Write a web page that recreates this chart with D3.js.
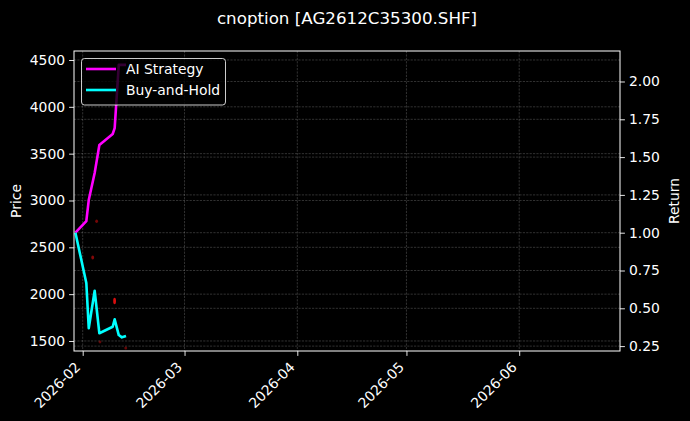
<!DOCTYPE html>
<html><head><meta charset="utf-8">
<script src="https://cdn.jsdelivr.net/npm/d3@7"></script>
<style>html,body{margin:0;padding:0;background:#000;}svg{display:block;font-family:"DejaVu Sans",sans-serif;}</style>
</head><body>
<script>
// ---- data ----
const titleText = "cnoption [AG2612C35300.SHF]";
const dates = ["2026-01-30T00:00","2026-02-02T00:00","2026-02-02T16:00","2026-02-04T07:00","2026-02-05T14:00","2026-02-09T06:00","2026-02-09T19:00","2026-02-10T22:00","2026-02-11T19:00","2026-02-12T22:00"];
const aiStrategy = [1.00, 1.077, 1.216, 1.395, 1.58, 1.653, 1.692, 2.11, 2.11, 2.11];
const buyHold    = [1.00, 0.667, 0.368, 0.616, 0.335, 0.378, 0.427, 0.323, 0.308, 0.317];
const tradeDates = ["2026-02-03T18:00","2026-02-04T20:00","2026-02-09T18:30","2026-02-05T18:00","2026-02-12T20:00"];
const tradePrices = [2392, 2778, 1927, 1489, 1425];
const tradeWeight = [0.45, 0.35, 1.0, 0.2, 0.25];
const xDomain = ["2026-01-29T14:40","2026-06-28T17:00"];
const xTicks = ["2026-02-01","2026-03-01","2026-04-01","2026-05-01","2026-06-01"];
const priceDomain = [1393, 4596];
const priceTicks = [1500, 2000, 2500, 3000, 3500, 4000, 4500];
const returnDomain = [0.2176, 2.2017];
const returnTicks = [0.25, 0.5, 0.75, 1.0, 1.25, 1.5, 1.75, 2.0];
const seriesNames = ["AI Strategy", "Buy-and-Hold"];
const seriesColors = ["#ff00ff", "#00ffff"];

// ---- layout ----
const W = 690, H = 421;
const L = 74, R = 620, T = 51, B = 351;
const parse = d3.isoParse;
const fs = 13.9;
const lw = 2.6;

const svg = d3.select("body").append("svg").attr("width", W).attr("height", H);
svg.append("rect").attr("width", W).attr("height", H).attr("fill", "#000");

const x = d3.scaleTime().domain(xDomain.map(parse)).range([L, R]);
const yP = d3.scaleLinear().domain(priceDomain).range([B, T]);
const yR = d3.scaleLinear().domain(returnDomain).range([B, T]);

// grid
const grid = svg.append("g").attr("stroke", "#fff").attr("stroke-opacity", 0.32).attr("stroke-width", 0.6).attr("stroke-dasharray", "2.2,1.2").attr("fill", "none");
priceTicks.forEach(p => grid.append("line").attr("x1", L).attr("x2", R).attr("y1", yP(p)).attr("y2", yP(p)));
returnTicks.forEach(r => grid.append("line").attr("x1", L).attr("x2", R).attr("y1", yR(r)).attr("y2", yR(r)));
xTicks.forEach(t => grid.append("line").attr("x1", x(parse(t))).attr("x2", x(parse(t))).attr("y1", T).attr("y2", B));

// trade markers (price axis)
const mk = svg.append("g");
tradeDates.forEach((d, i) => {
  mk.append("ellipse").attr("cx", x(parse(d))).attr("cy", yP(tradePrices[i]))
    .attr("rx", 1.4).attr("ry", 1 + 2.2 * tradeWeight[i])
    .attr("fill", "#ff1010").attr("opacity", 0.25 + 0.6 * tradeWeight[i]);
});

// lines
const line = d3.line().x((d, i) => x(parse(dates[i]))).y(d => yR(d));
[aiStrategy, buyHold].forEach((s, k) => {
  svg.append("path").datum(s).attr("d", line).attr("fill", "none")
    .attr("stroke", seriesColors[k]).attr("stroke-width", lw).attr("stroke-linejoin", "round");
});

// axes
const axL = d3.axisLeft(yP).tickValues(priceTicks).tickSize(4.9).tickPadding(4).tickFormat(d3.format("d"));
const axR = d3.axisRight(yR).tickValues(returnTicks).tickSize(4.9).tickPadding(4).tickFormat(d3.format(".2f"));
const axB = d3.axisBottom(x).tickValues(xTicks.map(parse)).tickSize(4.9).tickFormat(d3.timeFormat("%Y-%m"));

function style(g) {
  g.select(".domain").remove();
  g.selectAll("line").attr("stroke", "#fff").attr("stroke-width", 0.9);
  g.selectAll("text").attr("fill", "#fff").style("font-size", fs + "px").style("font-family", "DejaVu Sans");
}
svg.append("g").attr("transform", `translate(${L},0)`).call(axL).call(style);
svg.append("g").attr("transform", `translate(${R},0)`).call(axR).call(style);
const gB = svg.append("g").attr("transform", `translate(0,${B})`).call(axB).call(style);
gB.selectAll("text").attr("text-anchor", "end").attr("dy", null).attr("y", null)
  .attr("transform", "translate(-2,17) rotate(-45)");

// frame
svg.append("rect").attr("x", L).attr("y", T).attr("width", R - L).attr("height", B - T)
  .attr("fill", "none").attr("stroke", "#fff").attr("stroke-width", 1);

// labels
svg.append("text").attr("x", W / 2 + 2).attr("y", 24).attr("text-anchor", "middle").attr("fill", "#fff")
  .style("font-size", "16.7px").text(titleText);
svg.append("text").attr("transform", `translate(21,${(T + B) / 2}) rotate(-90)`).attr("text-anchor", "middle")
  .attr("fill", "#fff").style("font-size", fs + "px").text("Price");
svg.append("text").attr("transform", `translate(679,${(T + B) / 2}) rotate(-90)`).attr("text-anchor", "middle")
  .attr("fill", "#fff").style("font-size", fs + "px").text("Return");

// legend
const lg = svg.append("g");
lg.append("rect").attr("x", 81.5).attr("y", 58.5).attr("width", 144).attr("height", 46.5).attr("rx", 3)
  .attr("fill", "#000").attr("fill-opacity", 0.8).attr("stroke", "#fff").attr("stroke-opacity", 0.8).attr("stroke-width", 1);
seriesNames.forEach((n, i) => {
  const yy = 69 + i * 21;
  lg.append("line").attr("x1", 86).attr("x2", 116).attr("y1", yy).attr("y2", yy)
    .attr("stroke", seriesColors[i]).attr("stroke-width", lw);
  lg.append("text").attr("x", 126).attr("y", yy + 5).attr("fill", "#fff").style("font-size", fs + "px").text(n);
});
</script>
</body></html>
